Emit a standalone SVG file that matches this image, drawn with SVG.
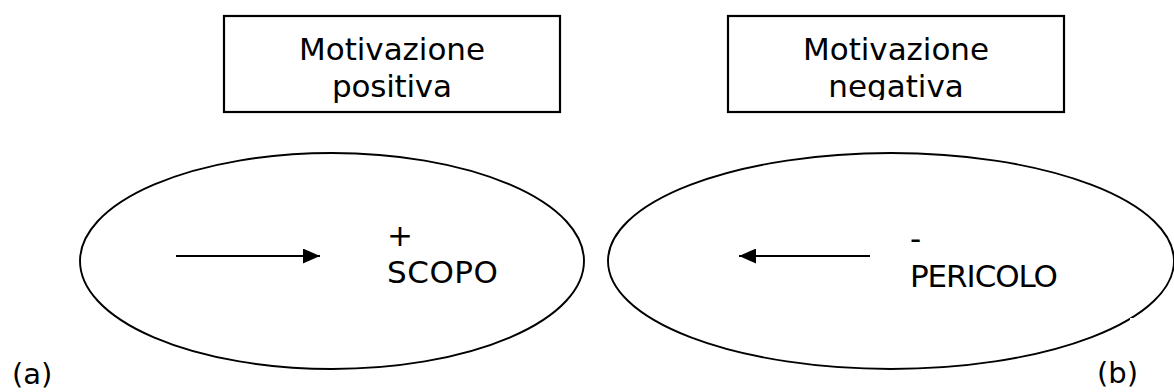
<svg xmlns="http://www.w3.org/2000/svg" width="1174" height="392" viewBox="0 0 1174 392">
  <style>
    .box { fill: #fff; stroke: #000; stroke-width: 2.2; }
    .ell { fill: none; stroke: #000; stroke-width: 1.9; }
    .t { font-family: "DejaVu Sans", "Liberation Sans", sans-serif; font-size: 31px; fill: #000; }
    .conn { stroke: #000; stroke-width: 2; fill: none; }
  </style>
  <defs>
    <marker id="ah" viewBox="0 0 17 15" refX="17" refY="7.5" markerWidth="17" markerHeight="15" markerUnits="userSpaceOnUse" orient="auto">
      <path d="M0,0 L17,7.5 L0,15 Z" fill="#000"/>
    </marker>
    <clipPath id="clipNeg"><rect x="728" y="16" width="336" height="84"/></clipPath>
  </defs>
  <rect width="1174" height="392" fill="#fff"/>

  <g id="box-positiva">
    <rect class="box" x="224" y="16" width="336" height="96"/>
    <text class="t" x="392" y="60" text-anchor="middle" textLength="186">Motivazione</text>
    <text class="t" x="392" y="97" text-anchor="middle" textLength="120">positiva</text>
  </g>

  <g id="box-negativa">
    <rect class="box" x="728" y="16" width="336" height="96"/>
    <text class="t" x="896" y="60" text-anchor="middle" textLength="186">Motivazione</text>
    <text class="t" x="896" y="97" text-anchor="middle" clip-path="url(#clipNeg)">negativa</text>
  </g>

  <g id="ellipse-a">
    <ellipse class="ell" cx="332" cy="261" rx="252" ry="108"/>
    <text class="t" x="387" y="246">+</text>
    <text class="t" x="387" y="283" textLength="111">SCOPO</text>
  </g>

  <g id="ellipse-b">
    <ellipse class="ell" cx="891" cy="261" rx="283" ry="108"/>
    <rect x="1130" y="318" width="6" height="12" fill="#fff"/>
    <text class="t" x="910" y="249">-</text>
    <text class="t" x="910" y="287" textLength="148">PERICOLO</text>
  </g>

  <g id="connectors">
    <line class="conn" x1="176" y1="256" x2="320" y2="256" marker-end="url(#ah)"/>
    <line class="conn" x1="870" y1="256" x2="739" y2="256" marker-end="url(#ah)"/>
  </g>

  <g id="labels">
    <text class="t" x="12" y="384" style="font-size:29px">(a)</text>
    <text class="t" x="1097" y="383" style="font-size:29px">(b)</text>
  </g>
</svg>
